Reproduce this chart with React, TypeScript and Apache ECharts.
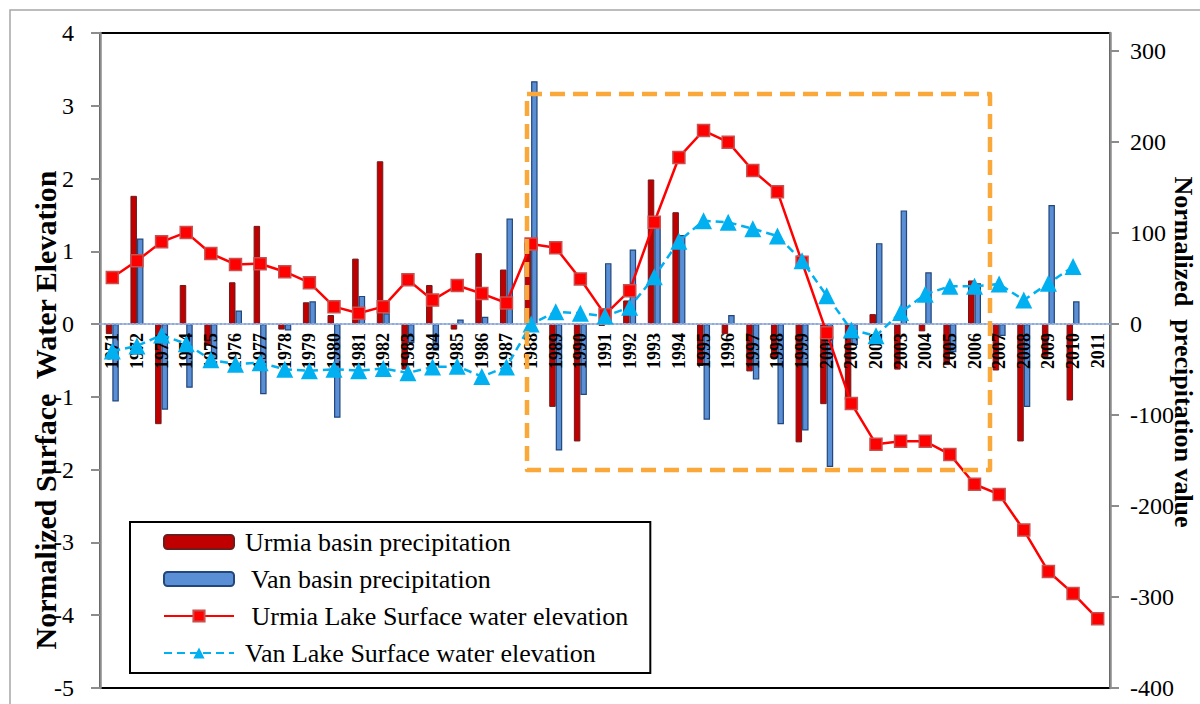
import React, { useEffect, useRef } from "react";
import * as echarts from "echarts";

const years = [
  "1971", "1972", "1973", "1974", "1975", "1976", "1977", "1978", "1979", "1980",
  "1981", "1982", "1983", "1984", "1985", "1986", "1987", "1988", "1989", "1990",
  "1991", "1992", "1993", "1994", "1995", "1996", "1997", "1998", "1999", "2000",
  "2001", "2002", "2003", "2004", "2005", "2006", "2007", "2008", "2009", "2010", "2011",
];

// Normalized precipitation (right axis)
const urmiaPrecip = [
  -11, 141, -110, 43, -24, 46, 108, -6, 24, 10,
  72, 179, -50, 43, -6, 78, 60, 90, -91, -129,
  -2, 26, 159, 123, -46, -11, -52, -38, -130, -88,
  -84, 11, -50, -8, -45, 48, -51, -129, -36, -84, null,
];
const vanPrecip = [
  -85, 94, -94, -70, -39, 15, -77, -7, 25, -103,
  31, 12, -21, -29, 5, 8, 116, 267, -139, -78,
  67, 82, 106, 98, -105, 10, -61, -110, -117, -157,
  -23, 89, 125, 57, -31, 45, -13, -91, 131, 25, null,
];

// Normalized surface water elevation (left axis)
const urmiaLake = [
  0.64, 0.87, 1.13, 1.26, 0.97, 0.82, 0.83, 0.72, 0.57, 0.24,
  0.15, 0.24, 0.61, 0.33, 0.53, 0.42, 0.29, 1.1, 1.05, 0.62,
  0.13, 0.46, 1.4, 2.29, 2.66, 2.5, 2.11, 1.82, 0.85, -0.12,
  -1.09, -1.65, -1.61, -1.61, -1.79, -2.2, -2.34, -2.83, -3.4, -3.7, -4.05,
];
const vanLake = [
  -0.37, -0.3, -0.15, -0.27, -0.49, -0.55, -0.53, -0.62, -0.64, -0.62,
  -0.64, -0.61, -0.67, -0.59, -0.58, -0.72, -0.59, 0.0, 0.17, 0.15,
  0.11, 0.23, 0.65, 1.14, 1.42, 1.4, 1.31, 1.21, 0.87, 0.39,
  -0.08, -0.16, 0.16, 0.41, 0.52, 0.52, 0.55, 0.33, 0.56, 0.79, null,
];

const leftMin = -5;
const leftMax = 4;
const rightMin = -400;
const rightMax = 320;
const rightTicks = [-400, -300, -200, -100, 0, 100, 200, 300];

const names = {
  urmiaP: "Urmia basin precipitation",
  vanP: " Van basin precipitation",
  urmiaL: " Urmia Lake Surface water elevation",
  vanL: "Van Lake Surface water elevation",
};

const SERIF = "Liberation Serif";

const GRID_TOP = 33;
const GRID_BOTTOM_PX = 688;

export default function App() {
  const ref = useRef<HTMLDivElement>(null);

  useEffect(() => {
    if (!ref.current) return;
    const chart = echarts.init(ref.current, null, { renderer: "svg" });
    const plotH = GRID_BOTTOM_PX - GRID_TOP;
    const zeroFromBottom = (plotH * (0 - leftMin)) / (leftMax - leftMin);
    chart.setOption({
      animation: false,
      backgroundColor: "#ffffff",
      textStyle: { fontFamily: SERIF },
      grid: {
        left: 100,
        right: 90,
        top: GRID_TOP,
        bottom: 704 - GRID_BOTTOM_PX,
        show: true,
        borderColor: "#000000",
        borderWidth: 2,
        containLabel: false,
        outerBoundsMode: "none",
      },
      legend: {
        orient: "vertical",
        left: 130,
        top: 522,
        itemWidth: 70,
        itemHeight: 14,
        itemGap: 11,
        padding: [7, 22, 7, 33],
        borderColor: "#000000",
        borderWidth: 2,
        backgroundColor: "#ffffff",
        textStyle: {
          fontFamily: SERIF,
          fontSize: 26,
          color: "#000",
          lineHeight: 26,
          padding: [0, 0, 0, 6],
        },
        data: [names.urmiaP, names.vanP, names.urmiaL, names.vanL],
        z: 20,
      },
      xAxis: {
        type: "category",
        data: years,
        position: "bottom",
        offset: -zeroFromBottom,
        axisLine: {
          onZero: false,
          lineStyle: { color: "#8EA9DB", type: "dotted", width: 2 },
        },
        axisTick: { show: false },
        axisLabel: {
          interval: 0,
          rotate: 90,
          margin: 9,
          fontFamily: SERIF,
          fontWeight: "bold",
          fontSize: 18,
          color: "#000",
        },
        splitLine: { show: false },
        z: 3,
      },
      yAxis: [
        {
          type: "value",
          min: leftMin,
          max: leftMax,
          interval: 1,
          axisLine: { show: true, lineStyle: { color: "#8C8C8C", width: 2.5 } },
          axisTick: { show: true, length: 9, lineStyle: { color: "#8C8C8C", width: 2 } },
          axisLabel: {
            margin: 26,
            fontFamily: SERIF,
            fontSize: 24,
            color: "#000",
          },
          splitLine: { show: false },
        },
        {
          type: "value",
          min: rightMin,
          max: rightMax,
          interval: 100,
          axisLine: { show: true, lineStyle: { color: "#8C8C8C", width: 2.5 } },
          axisTick: {
            show: true,
            length: 9,
            lineStyle: { color: "#8C8C8C", width: 2 },
            customValues: rightTicks,
          },
          axisLabel: {
            margin: 20,
            fontFamily: SERIF,
            fontSize: 24,
            color: "#000",
            customValues: rightTicks,
          },
          splitLine: { show: false },
        },
      ],
      series: [
        {
          name: names.urmiaP,
          type: "bar",
          yAxisIndex: 1,
          data: urmiaPrecip,
          barWidth: 6.5,
          barGap: "0%",
          itemStyle: { color: "#C00000", borderColor: "#6E1B1B", borderWidth: 1 },
          z: 2,
        },
        {
          name: names.vanP,
          type: "bar",
          yAxisIndex: 1,
          data: vanPrecip,
          barWidth: 6.5,
          barGap: "0%",
          itemStyle: { color: "#5A8ED5", borderColor: "#21477C", borderWidth: 1.2 },
          z: 2,
        },
        {
          name: names.urmiaL,
          type: "line",
          yAxisIndex: 0,
          data: urmiaLake,
          symbol: "rect",
          symbolSize: 12,
          showAllSymbol: true,
          lineStyle: { color: "#FF0000", width: 2.5 },
          itemStyle: { color: "#FF0000", borderColor: "#C9504E", borderWidth: 1.5 },
          z: 4,
        },
        {
          name: names.vanL,
          type: "line",
          yAxisIndex: 0,
          data: vanLake,
          symbol: "triangle",
          symbolSize: 17,
          showAllSymbol: true,
          lineStyle: { color: "#00B0F0", width: 2.5, type: [8, 5] },
          itemStyle: { color: "#00B0F0" },
          z: 4,
        },
      ],
      graphic: [
        {
          type: "rect",
          shape: { x: 10, y: 10, width: 1200, height: 720 },
          style: { fill: "none", stroke: "#A6A6A6", lineWidth: 1.5 },
          silent: true,
          z: -10,
        },
        {
          type: "rect",
          shape: { x: 527, y: 94, width: 463, height: 376 },
          style: {
            fill: "none",
            stroke: "#FBA83A",
            lineWidth: 4.5,
            lineDash: [15, 8],
            lineJoin: "round",
          },
          silent: true,
          z: 100,
        },
        {
          type: "text",
          x: 45,
          y: 410,
          rotation: Math.PI / 2,
          style: {
            text: "Normalized Surface  Water Elevation",
            fontFamily: SERIF,
            fontWeight: "bold",
            fontSize: 30,
            fill: "#000",
            align: "center",
            verticalAlign: "middle",
          },
          z: 50,
        },
        {
          type: "text",
          x: 1183,
          y: 352,
          rotation: -Math.PI / 2,
          style: {
            text: "Normalized  precipitation value",
            fontFamily: SERIF,
            fontWeight: "bold",
            fontSize: 26,
            fill: "#000",
            align: "center",
            verticalAlign: "middle",
          },
          z: 50,
        },
      ],
    });
    return () => chart.dispose();
  }, []);

  return (
    <div
      ref={ref}
      style={{ position: "fixed", left: 0, top: 0, width: 1200, height: 704 }}
    />
  );
}
